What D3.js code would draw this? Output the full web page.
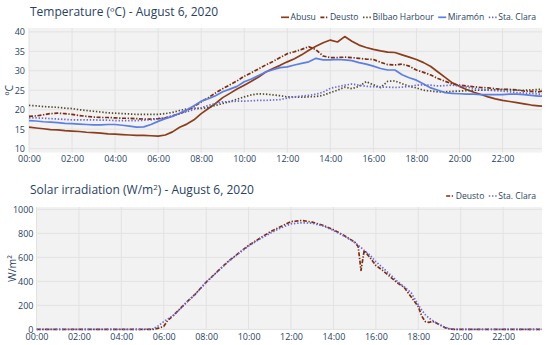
<!DOCTYPE html>
<html>
<head>
<meta charset="utf-8">
<script src="https://cdn.jsdelivr.net/npm/d3@7"></script>
<style>
  body { margin: 0; background: #fff; }
  text { font-family: "Open Sans", sans-serif; }
</style>
</head>
<body>
<svg id="chart" width="550" height="345"></svg>
<script>
// readings every 20 minutes, last one at 23:50
const tempMinutes = d3.range(0, 1440, 20).concat([1430]);

const abusuTemp = [
  15.5, 15.3, 15.1, 14.9, 14.8, 14.6, 14.5, 14.4, 14.2, 14.1, 14.0, 13.8,
  13.7, 13.6, 13.5, 13.4, 13.4, 13.3, 13.2, 13.5, 14.3, 15.5, 16.3, 17.4,
  19.0, 20.3, 21.6, 23.1, 24.2, 25.3, 26.3, 27.3, 28.4, 29.7, 30.6, 31.4,
  32.3, 33.1, 34.1, 35.3, 36.3, 37.2, 37.9, 37.4, 38.8, 37.6, 36.6, 36.0,
  35.5, 35.1, 34.8, 34.7, 34.1, 33.5, 32.9, 32.1, 31.1, 29.7, 28.3, 26.9,
  26.0, 25.2, 24.5, 23.9, 23.3, 22.8, 22.4, 22.1, 21.8, 21.5, 21.2, 21.0,
  20.9
];
const deustoTemp = [
  18.3, 18.4, 18.7, 19.0, 19.1, 19.0, 18.8, 18.5, 18.3, 18.1, 18.0, 18.0,
  17.9, 17.8, 17.8, 17.7, 17.6, 17.6, 17.7, 17.9, 18.4, 19.0, 19.8, 20.8,
  22.0, 23.1, 24.3, 25.4, 26.4, 27.4, 28.6, 29.5, 30.5, 31.5, 32.4, 33.4,
  34.4, 34.9, 35.5, 36.2, 35.4, 33.8, 33.4, 33.4, 33.5, 33.4, 33.2, 33.0,
  32.9, 32.2, 31.6, 31.5, 31.7, 31.2, 30.2, 29.6, 28.9, 28.0, 27.3, 26.6,
  26.3, 26.1, 25.9, 25.7, 25.6, 25.4, 25.2, 25.2, 25.1, 24.8, 24.7, 24.6,
  24.8
];
const harbourTemp = [
  21.1, 21.0, 20.8, 20.7, 20.6, 20.4, 20.3, 20.0, 19.8, 19.6, 19.4, 19.2,
  19.1, 19.0, 18.9, 18.8, 18.8, 18.8, 18.8, 19.0, 19.3, 19.8, 20.2, 20.4,
  20.3, 20.6, 21.1, 21.6, 22.1, 22.7, 23.3, 23.8, 24.1, 24.0, 23.8, 23.6,
  23.3, 23.3, 23.2, 23.3, 23.4, 23.7, 24.4, 25.0, 25.8, 25.4, 26.0, 27.2,
  26.4, 25.7, 27.3, 27.4, 26.7, 26.0, 25.6, 25.0, 24.8, 24.6, 24.6, 24.7,
  24.8, 24.9, 25.0, 25.0, 25.1, 25.1, 25.2, 25.1, 25.0, 25.0, 25.1, 25.2,
  25.2
];
const miramonTemp = [
  17.2, 17.1, 16.9, 16.8, 16.7, 16.5, 16.4, 16.3, 16.2, 16.1, 16.1, 16.2,
  16.2, 16.0, 15.8, 15.5, 15.6, 16.2, 17.0, 17.7, 18.3, 19.1, 20.0, 21.0,
  22.2, 22.8, 23.6, 24.6, 25.3, 26.0, 27.2, 27.9, 28.8, 29.7, 30.3, 30.8,
  31.0, 31.5, 31.9, 32.3, 33.2, 32.8, 32.8, 32.9, 32.8, 32.6, 32.1, 31.7,
  31.2, 30.6, 30.2, 30.2, 29.0, 28.2, 27.6, 26.6, 25.6, 25.0, 24.4, 24.2,
  24.1, 24.0, 24.0, 23.9, 23.9, 23.9, 23.9, 24.0, 24.0, 23.9, 23.7, 23.5,
  23.5
];
const staClaraTemp = [
  17.9, 17.9, 17.8, 17.7, 17.6, 17.5, 17.4, 17.4, 17.4, 17.4, 17.3, 17.3,
  17.2, 17.2, 17.2, 17.2, 17.3, 17.4, 17.6, 17.9, 18.4, 19.0, 19.5, 20.1,
  20.5, 21.1, 21.6, 22.0, 22.1, 22.2, 22.2, 22.3, 22.4, 22.4, 22.5, 22.6,
  23.0, 23.3, 23.5, 23.7, 24.0, 24.5, 25.5, 25.9, 26.3, 26.6, 26.3, 26.0,
  25.9, 25.8, 25.8, 25.7, 25.8, 26.0, 26.3, 26.4, 26.3, 26.1, 26.2, 26.3,
  26.1, 25.8, 25.5, 25.2, 25.0, 24.9, 24.8, 24.6, 24.4, 24.3, 24.2, 24.0,
  24.0
];

const solarMinutes = [
  0, 300, 330, 345, 360, 370, 390, 420, 450, 480, 510, 540, 570, 600, 630, 660,
  690, 720, 750, 780, 810, 840, 870, 900, 910, 918, 927, 942, 960, 980, 1000,
  1020, 1040, 1060, 1080, 1090, 1100, 1110, 1120, 1130, 1140, 1155, 1170,
  1185, 1200, 1430
];
const deustoSolar = [
  0, 0, 0, 10, 25, 70, 125, 214, 297, 394, 478, 561, 631, 700, 756, 811,
  855, 898, 908, 894, 868, 831, 783, 728, 690, 492, 658, 603, 533, 490, 440,
  390, 350, 270, 190, 110, 65, 58, 68, 55, 40, 15, 3,
  0, 0, 0
];
const staClaraSolar = [
  0, 0, 5, 30, 65, 85, 122, 210, 295, 392, 476, 558, 628, 695, 750, 800,
  845, 880, 888, 885, 862, 825, 778, 725, 700, 682, 658, 622, 565, 512, 458,
  402, 355, 305, 205, 160, 122, 95, 75, 55, 40, 18, 5,
  0, 0, 0
];

const hourTicks = d3.range(0, 24, 2);
const tempTicks = [10, 15, 20, 25, 30, 35, 40];
const solarTicks = [0, 200, 400, 600, 800, 1000];

const lineStyle = {
  "Abusu":          { color: "#8b3d1c", dash: null },
  "Deusto":         { color: "#7a2d10", dash: "4,1.6,1.3,1.6" },
  "Bilbao Harbour": { color: "#52482a", dash: "1.4,1.8" },
  "Miramón":        { color: "#5d7fe3", dash: null },
  "Sta. Clara":     { color: "#6a67d6", dash: "1.4,1.8" }
};

const TXT = "#2a3f5f";
const RIGHT = 542;
const svg = d3.select("#chart");

function panel(opt) {
  const x = d3.scaleLinear().domain([0, 1430]).range([opt.left, RIGHT]);
  const y = d3.scaleLinear().domain(opt.yDomain).range([opt.bottom, opt.top]);
  const g = svg.append("g");

  g.append("rect")
    .attr("x", opt.left).attr("y", opt.top)
    .attr("width", RIGHT - opt.left).attr("height", opt.bottom - opt.top)
    .attr("fill", "#f2f2f2");

  g.append("g").selectAll("line").data(hourTicks).enter().append("line")
    .attr("x1", d => x(d * 60)).attr("x2", d => x(d * 60))
    .attr("y1", opt.top).attr("y2", opt.bottom)
    .attr("stroke", "#e2e2e2").attr("stroke-width", 1);
  g.append("g").selectAll("line").data(opt.yTicks).enter().append("line")
    .attr("x1", opt.left).attr("x2", RIGHT)
    .attr("y1", d => y(d)).attr("y2", d => y(d))
    .attr("stroke", "#e2e2e2").attr("stroke-width", 1);

  const xAxis = d3.axisBottom(x)
    .tickValues(hourTicks.map(h => h * 60))
    .tickSize(0).tickPadding(opt.xPad)
    .tickFormat(m => d3.format("02d")(m / 60) + ":00");
  g.append("g").attr("transform", `translate(0,${opt.bottom})`).call(xAxis)
    .call(a => a.select(".domain").remove())
    .call(a => a.selectAll("text").attr("fill", TXT).style("font-size", "9px").style("font-family", "Open Sans"));

  const yAxis = d3.axisLeft(y).tickValues(opt.yTicks).tickFormat(d3.format("d"))
    .tickSize(0).tickPadding(opt.yPad);
  g.append("g").attr("transform", `translate(${opt.left},0)`).call(yAxis)
    .call(a => a.select(".domain").remove())
    .call(a => a.selectAll("text").attr("fill", TXT).style("font-size", "9px").style("font-family", "Open Sans"));

  const clip = "clip" + opt.id;
  svg.append("clipPath").attr("id", clip).append("rect")
    .attr("x", opt.left).attr("y", opt.top - 2)
    .attr("width", RIGHT - opt.left).attr("height", opt.bottom - opt.top + 4);

  const lines = g.append("g").attr("clip-path", `url(#${clip})`);
  opt.series.forEach(s => {
    const line = d3.line().x((d, i) => x(opt.xs[i])).y(d => y(d));
    lines.append("path")
      .datum(s.values)
      .attr("d", line)
      .attr("fill", "none")
      .attr("stroke", lineStyle[s.name].color)
      .attr("stroke-width", 1.7)
      .attr("stroke-dasharray", lineStyle[s.name].dash)
      .attr("stroke-linejoin", "round");
  });

  // title
  const t = svg.append("text").attr("x", 30).attr("y", opt.titleY)
    .attr("fill", TXT).style("font-size", "12px");
  t.append("tspan").text(opt.title[0]);
  if (opt.title.length > 1) {
    t.append("tspan").attr("dy", -4).style("font-size", "8px").text("2");
    t.append("tspan").attr("dy", 4).text(opt.title[1]);
  }

  // axis title
  svg.append("text")
    .attr("transform", `translate(${opt.yTitleX},${(opt.top + opt.bottom) / 2}) rotate(-90)`)
    .attr("text-anchor", "middle").attr("fill", TXT).style("font-size", "10.5px")
    .text(opt.yTitle);

  // legend, right aligned
  const lg = svg.append("g");
  let cx = 0;
  opt.series.forEach(s => {
    const st = lineStyle[s.name];
    const item = lg.append("g").attr("transform", `translate(${cx},0)`);
    item.append("line").attr("x1", 0).attr("x2", 8).attr("y1", 0).attr("y2", 0)
      .attr("stroke", st.color).attr("stroke-width", 1.7).attr("stroke-dasharray", st.dash);
    const tx = item.append("text").attr("x", 9.5).attr("y", 3.1)
      .attr("fill", TXT).style("font-size", "8.6px").text(s.name);
    cx += 9.5 + tx.node().getComputedTextLength() + 4.5;
  });
  lg.attr("transform", `translate(${opt.legendRight - (cx - 4.5)},${opt.legendY})`);
}

panel({
  id: "temp",
  left: 29, top: 28, bottom: 152.5,
  yDomain: [9, 41], yTicks: tempTicks,
  xPad: 3.5, yPad: 4,
  xs: tempMinutes,
  series: [
    { name: "Abusu", values: abusuTemp },
    { name: "Deusto", values: deustoTemp },
    { name: "Bilbao Harbour", values: harbourTemp },
    { name: "Miramón", values: miramonTemp },
    { name: "Sta. Clara", values: staClaraTemp }
  ],
  title: ["Temperature (ºC) - August 6, 2020"], titleY: 15.5,
  yTitle: "ºC", yTitleX: 13,
  legendRight: 536, legendY: 17.3
});

panel({
  id: "solar",
  left: 36.5, top: 207, bottom: 330,
  yDomain: [-5, 1020], yTicks: solarTicks,
  xPad: 3.5, yPad: 3,
  xs: solarMinutes,
  series: [
    { name: "Deusto", values: deustoSolar },
    { name: "Sta. Clara", values: staClaraSolar }
  ],
  title: ["Solar irradiation (W/m", ") - August 6, 2020"], titleY: 194,
  yTitle: "W/m²", yTitleX: 15.5,
  legendRight: 536, legendY: 196
});
</script>
</body>
</html>
